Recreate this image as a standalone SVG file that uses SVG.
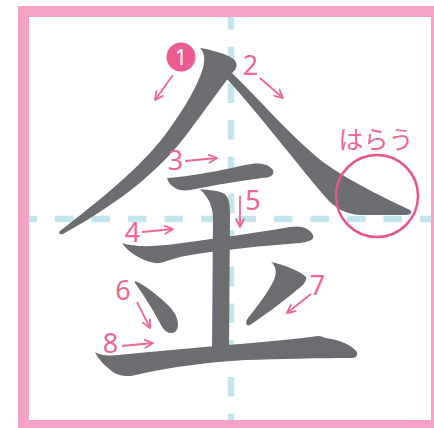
<svg xmlns="http://www.w3.org/2000/svg" width="434" height="428" viewBox="0 0 434 428">
<defs>
<style>
.stroke{fill:#6c6d71}
.guide{stroke:#c3e6ee;stroke-width:6.5;fill:none}
.num{font-family:"Noto Sans","Liberation Sans",sans-serif;font-size:27px;fill:#ee6596;text-anchor:middle;font-weight:normal}
.arr{stroke:#ee6596;stroke-width:1.8;fill:none;marker-end:url(#ah)}
</style>
<marker id="ah" viewBox="0 0 10 10" refX="9" refY="5" markerWidth="10" markerHeight="10" markerUnits="userSpaceOnUse" orient="auto">
<path d="M1,1 L9,5 L1,9" fill="none" stroke="#ee6596" stroke-width="1.8" stroke-linecap="round" stroke-linejoin="round"/>
</marker>
</defs>
<g id="frame">
<rect x="18" y="6" width="430" height="430" fill="#f4a2c6"/>
<rect x="29" y="17" width="402" height="403" fill="#ffffff"/>
</g>
<g id="guides">
<line class="guide" x1="18.5" y1="219" x2="431" y2="219" stroke-dasharray="18.5 18"/>
<line class="guide" x1="231" y1="10" x2="231" y2="420" stroke-dasharray="19.5 17.2"/>
<rect x="18" y="200" width="11" height="30" fill="#f4a2c6"/>
<rect x="215" y="6" width="30" height="11" fill="#f4a2c6"/>
</g>
<g id="kanji">
<path id="s1" class="stroke" d="M200,48 C212,50 226,54 232,58 C238,62 238,68 233,72 C222,86 205,110 190,130 C165,165 125,200 63,234 C60,235 58,233 60,231 C100,200 140,168 165,135 C185,108 198,85 203,68 C205,60 205,53 200,48 Z"/>
<path id="s2" class="stroke" d="M229,70 C260,100 290,135 318,158 C340,176 380,196 410,210 C413,212 411,215 406,215 L360,215 C345,214 336,208 328,200 C300,168 260,115 226,78 Z"/>
<path id="s3" class="stroke" d="M167,178 C185,177 215,172 245,165 C258,162 268,163 273,170 C275,175 270,178 262,178 C240,181 215,185 190,190 C180,192 170,188 167,178 Z"/>
<path id="s5" class="stroke" d="M200,189 C210,190 220,191 225,194 C229,198 230,205 230,215 L229,348 L212,348 L213,220 C213,208 210,199 200,189 Z"/>
<path id="s4" class="stroke" d="M122,243 C135,247 150,247 175,244 C220,238 260,232 290,227 C300,225 310,228 313,235 C315,240 308,242 300,243 C260,246 220,250 185,256 C170,259 162,264 155,263 C140,260 128,252 122,243 Z"/>
<path id="s6" class="stroke" d="M135,281 C145,285 160,297 170,307 C178,316 180,326 176,331 C172,335 166,333 162,327 C155,313 145,297 135,283 Z"/>
<path id="s7" class="stroke" d="M271,262 C285,265 300,271 306,277 C307,280 304,285 298,289 C285,300 268,313 250,325 C246,327 245,322 248,318 C258,305 268,293 274,280 C277,272 276,266 271,262 Z"/>
<path id="s8" class="stroke" d="M95,352 C102,356 108,356 118,355 C160,351 200,347 240,344 C270,341 300,339 318,336 C322,336 324,338 326,338 C340,340 352,345 357,352 C358,357 355,358 350,358 C320,358 280,359 245,360 C210,362 170,367 140,374 C130,377 120,377 113,372 C105,366 98,359 95,352 Z"/>
</g>
<g id="harai">
<circle cx="377" cy="196" r="41" fill="none" stroke="#e9558b" stroke-width="2.5"/>
<text x="376" y="149" font-family="'Noto Sans CJK JP',sans-serif" font-size="25" fill="#ee6596" text-anchor="middle">はらう</text>
</g>
<g id="labels">
<g id="n1">
<circle cx="181" cy="57" r="14.5" fill="#ec5c91"/>
<text x="181" y="65" font-family="'Noto Sans','Liberation Sans',sans-serif" font-size="21" fill="#ffffff" text-anchor="middle">1</text>
</g>
<text class="num" x="250.5" y="75">2</text>
<text class="num" x="175.5" y="170">3</text>
<text class="num" x="132.5" y="242">4</text>
<text class="num" x="253" y="210">5</text>
<text class="num" x="123" y="300">6</text>
<text class="num" x="317.5" y="295">7</text>
<text class="num" x="110.5" y="353">8</text>
</g>
<g id="connectors">
<line class="arr" x1="173" y1="75" x2="155" y2="100"/>
<line class="arr" x1="260" y1="78" x2="283" y2="98"/>
<line class="arr" x1="185" y1="161" x2="217" y2="158"/>
<line class="arr" x1="142" y1="232" x2="173" y2="229"/>
<line class="arr" x1="240" y1="196" x2="240" y2="227"/>
<line class="arr" x1="137" y1="302" x2="150" y2="328"/>
<line class="arr" x1="311" y1="294" x2="287" y2="313"/>
<line class="arr" x1="122" y1="346" x2="153" y2="343"/>
</g>
</svg>
